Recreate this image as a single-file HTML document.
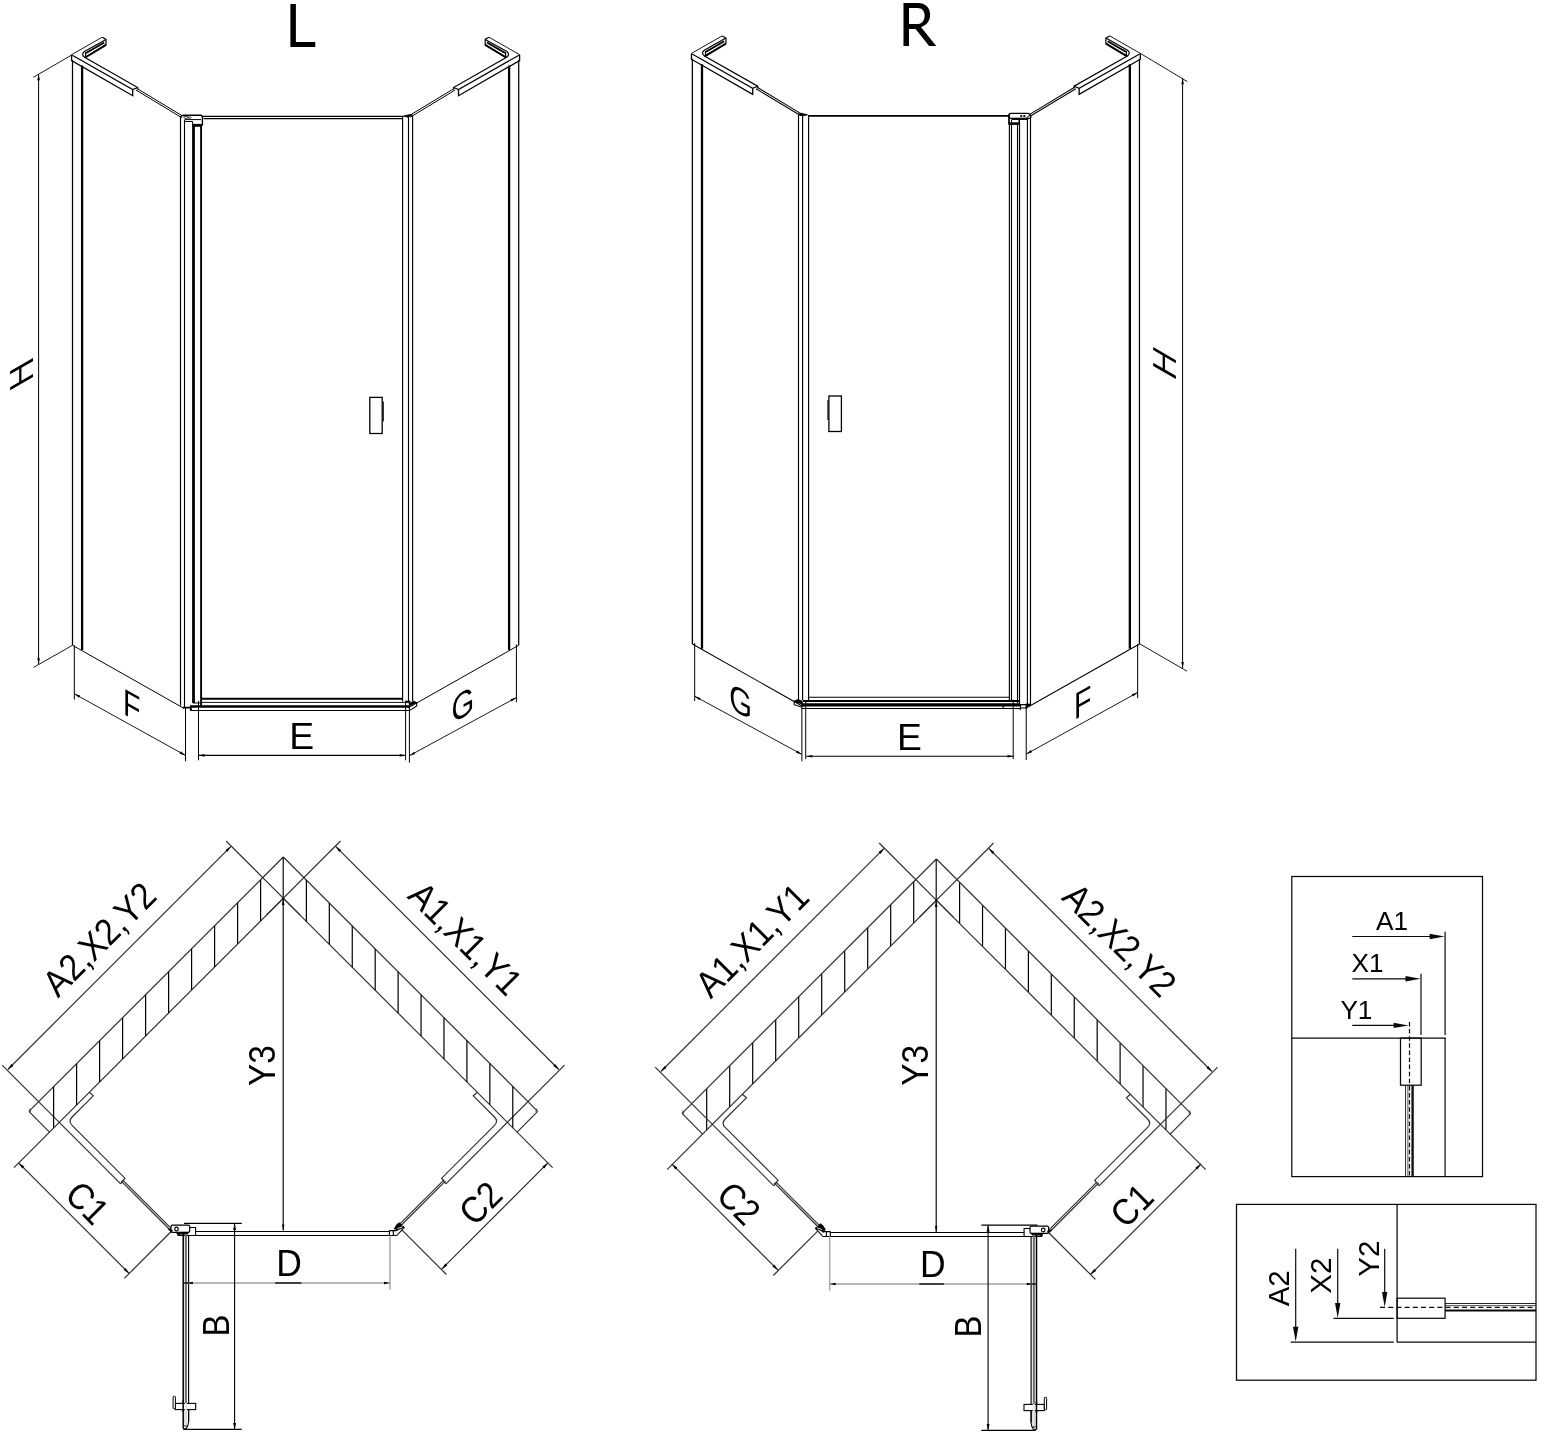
<!DOCTYPE html>
<html><head><meta charset="utf-8"><title>Shower enclosure dimensions</title>
<style>html,body{margin:0;padding:0;background:#fff;}svg{display:block;}text{font-family:"Liberation Sans",sans-serif;}svg{will-change:transform;}</style>
</head><body>
<svg width="1547" height="1436" viewBox="0 0 1547 1436">
<rect width="1547" height="1436" fill="#fff"/>
<defs>
<g id="isoHalf"><line x1="72.5" y1="60" x2="72.5" y2="645.3" stroke="#000" stroke-width="1.25" />
<line x1="82.1" y1="65.5" x2="82.1" y2="650" stroke="#000" stroke-width="2.3" />
<path d="M71.6,54.7 L102.2,37.2" stroke="#000" stroke-width="0.9" fill="none" />
<path d="M102.2,37.2 L106,39.4 V44.8 L85,57.6 L137.7,87.5 V89.6" stroke="#000" stroke-width="1.2" fill="none" />
<path d="M106,39.4 L84.4,51.5 Q80.6,54.6 85,57.6" stroke="#000" stroke-width="1.2" fill="none" />
<path d="M104.2,42.5 L86.1,53" stroke="#000" stroke-width="1.9" fill="none" />
<path d="M106,44.9 L85.6,57.2" stroke="#000" stroke-width="1.9" fill="none" />
<path d="M85.6,52.3 V56.8" stroke="#000" stroke-width="1.2" fill="none" />
<path d="M72.3,55.2 L132.7,89.6 L137.7,87.5" stroke="#000" stroke-width="1.2" fill="none" />
<path d="M71.6,54.7 V60.5 L132.7,95.7 V89.6" stroke="#000" stroke-width="1.3" fill="none" />
<path d="M137.2,88.6 L181.6,115.4" stroke="#000" stroke-width="1.0" fill="none" />
<path d="M136,90 L180.8,117.1" stroke="#000" stroke-width="1.0" fill="none" />
<line x1="72.5" y1="645.3" x2="183.3" y2="708" stroke="#000" stroke-width="1.0" /></g>
<g id="isoFrame"><use href="#isoHalf"/><use href="#isoHalf" transform="translate(591.2,0) scale(-1,1)"/><line x1="74.3" y1="645.3" x2="74.3" y2="699.6" stroke="#000" stroke-width="1.0" />
<line x1="74.3" y1="693.8" x2="185.5" y2="755.4" stroke="#000" stroke-width="0.9" /><path d="M74.3,693.8 L80.18,695.57 L78.92,697.84 Z" fill="#000" stroke="none"/><path d="M185.5,755.4 L179.62,753.63 L180.88,751.36 Z" fill="#000" stroke="none"/>
<line x1="185.5" y1="707.8" x2="185.5" y2="761.2" stroke="#000" stroke-width="1.0" />
<line x1="198.5" y1="701" x2="198.5" y2="760.3" stroke="#000" stroke-width="1.0" />
<line x1="405.6" y1="701.4" x2="405.6" y2="760.3" stroke="#000" stroke-width="1.0" />
<line x1="409.4" y1="703" x2="409.4" y2="762.6" stroke="#000" stroke-width="1.0" />
<line x1="409.4" y1="755.7" x2="516.4" y2="697.5" stroke="#000" stroke-width="0.9" /><path d="M409.4,755.7 L414.05,751.69 L415.29,753.98 Z" fill="#000" stroke="none"/><path d="M516.4,697.5 L511.75,701.51 L510.51,699.22 Z" fill="#000" stroke="none"/>
<line x1="516.4" y1="644.4" x2="516.4" y2="702.4" stroke="#000" stroke-width="1.0" /></g>
</defs>
<use href="#isoFrame"/>
<line x1="180.5" y1="116.5" x2="180.5" y2="705.5" stroke="#000" stroke-width="1.15" />
<line x1="184.5" y1="120" x2="184.5" y2="707" stroke="#000" stroke-width="1.1" />
<line x1="193.5" y1="126" x2="193.5" y2="703" stroke="#000" stroke-width="2.8" />
<line x1="201.1" y1="124" x2="201.1" y2="707" stroke="#000" stroke-width="1.9" />
<path d="M180.5,118 Q181,115.3 184,115.3 H200.6 Q202.4,115.3 202.4,117.5 V124.8 H192.2" stroke="#000" stroke-width="1.4" fill="none" />
<path d="M184.5,119.6 H201 M184.5,121.5 H192.6 V124.4 H200.5" stroke="#000" stroke-width="1.0" fill="none" />
<path d="M192.2,125.5 H201.9" stroke="#000" stroke-width="2.6" fill="none" />
<ellipse cx="186" cy="117.3" rx="2.2" ry="1.1" stroke="#000" stroke-width="0.8" fill="none"/>
<ellipse cx="189.5" cy="117.6" rx="1.6" ry="0.8" stroke="#000" stroke-width="0.7" fill="none"/>
<line x1="203" y1="116.3" x2="403.5" y2="116.3" stroke="#000" stroke-width="1.2" />
<line x1="203.6" y1="118.6" x2="402.5" y2="118.6" stroke="#000" stroke-width="1.2" />
<line x1="402.6" y1="117" x2="402.6" y2="701.5" stroke="#000" stroke-width="1.15" />
<line x1="408.5" y1="117" x2="408.5" y2="701.5" stroke="#000" stroke-width="1.15" />
<line x1="412.6" y1="116" x2="412.6" y2="701.5" stroke="#000" stroke-width="1.15" />
<path d="M403.5,116 L407.5,117.2 L412.6,115.2 L410,114.6 Z" stroke="#000" stroke-width="0.8" fill="#000" />
<rect x="369.8" y="397.4" width="12.4" height="36.1" stroke="#000" stroke-width="1.3" fill="none"/>
<line x1="383.3" y1="401.5" x2="383.3" y2="421.5" stroke="#000" stroke-width="1.0" />
<line x1="201.9" y1="698.8" x2="402.6" y2="698.8" stroke="#000" stroke-width="1.9" />
<line x1="201.9" y1="702.4" x2="409.9" y2="702.4" stroke="#000" stroke-width="0.95" />
<line x1="190.3" y1="706.5" x2="409" y2="706.5" stroke="#000" stroke-width="2.5" />
<line x1="190.3" y1="710.5" x2="409.9" y2="710.5" stroke="#000" stroke-width="1.1" />
<path d="M183,707.6 H190.6 L191.5,710.5" stroke="#000" stroke-width="1.6" fill="none" />
<path d="M190.5,705.4 V710.5 M193,703 H201" stroke="#000" stroke-width="1.2" fill="none" />
<path d="M409,704 L416.7,702.6 V706 L409.9,710.4" stroke="#000" stroke-width="1.1" fill="none" />
<path d="M409,703.5 L414,701 L416.7,702.6 L410.5,705.8 Z" stroke="#000" stroke-width="0.6" fill="#000" />
<path d="M405,701.5 H410.5" stroke="#000" stroke-width="1.6" fill="none" />
<line x1="198.5" y1="755.4" x2="405.6" y2="755.4" stroke="#000" stroke-width="1.15" /><path d="M198.5,755.4 L204.5,754.1 L204.5,756.7 Z" fill="#000" stroke="none"/><path d="M405.6,755.4 L399.6,756.7 L399.6,754.1 Z" fill="#000" stroke="none"/>
<line x1="33.2" y1="77.4" x2="72" y2="54.8" stroke="#000" stroke-width="0.9" />
<line x1="38.6" y1="74.3" x2="38.6" y2="664.3" stroke="#000" stroke-width="1.0" /><path d="M38.6,74.3 L39.9,80.3 L37.3,80.3 Z" fill="#000" stroke="none"/><path d="M38.6,664.3 L37.3,658.3 L39.9,658.3 Z" fill="#000" stroke="none"/>
<line x1="33.6" y1="667.4" x2="72.5" y2="645.3" stroke="#000" stroke-width="0.9" />
<use href="#isoFrame" transform="translate(1212.1,-1.3) scale(-1.002,1)"/>
<line x1="1009.4" y1="124.5" x2="1009.4" y2="701" stroke="#000" stroke-width="1.15" />
<line x1="1011.5" y1="124.5" x2="1011.5" y2="701" stroke="#000" stroke-width="1.1" />
<line x1="1017.5" y1="124.5" x2="1017.5" y2="703" stroke="#000" stroke-width="1.1" />
<line x1="1019.5" y1="120" x2="1019.5" y2="706" stroke="#000" stroke-width="1.2" />
<line x1="1027.4" y1="119.5" x2="1027.4" y2="706.5" stroke="#000" stroke-width="1.1" />
<line x1="1030.5" y1="116" x2="1030.5" y2="705.5" stroke="#000" stroke-width="1.15" />
<path d="M1009,118 V115.2 Q1009,113.4 1011,113.4 H1027.6 Q1030.2,113.6 1030.7,116 V118" stroke="#000" stroke-width="1.4" fill="none" />
<path d="M1009,118.3 H1030.7" stroke="#000" stroke-width="1.2" fill="none" />
<path d="M1011.5,119.2 H1028.2" stroke="#000" stroke-width="1.5" fill="none" />
<path d="M1009,114.5 V123" stroke="#000" stroke-width="1.7" fill="none" />
<path d="M1008.2,123.6 H1019.9" stroke="#000" stroke-width="2.6" fill="none" />
<path d="M1011.5,119.8 V122.3 M1019,119.8 V122.3" stroke="#000" stroke-width="1.0" fill="none" />
<ellipse cx="1021.2" cy="116" rx="1.2" ry="0.9" fill="#000"/>
<ellipse cx="1024.3" cy="116" rx="1.2" ry="0.9" fill="#000"/>
<path d="M1026.5,117.6 L1030.2,115.2" stroke="#000" stroke-width="1.0" fill="none" />
<line x1="808" y1="115.9" x2="1009" y2="115.9" stroke="#000" stroke-width="1.8" />
<line x1="798.5" y1="115" x2="798.5" y2="700" stroke="#000" stroke-width="1.15" />
<line x1="802.6" y1="115.7" x2="802.6" y2="700" stroke="#000" stroke-width="1.15" />
<line x1="808.6" y1="115.7" x2="808.6" y2="700" stroke="#000" stroke-width="1.15" />
<path d="M798.5,114 L802.5,116 L807.6,114.8 L801,113.2 Z" stroke="#000" stroke-width="0.8" fill="#000" />
<rect x="828.9" y="396" width="12.5" height="35.5" stroke="#000" stroke-width="1.3" fill="none"/>
<line x1="827.9" y1="400" x2="827.9" y2="420" stroke="#000" stroke-width="1.0" />
<line x1="808.6" y1="697.3" x2="1009.4" y2="697.3" stroke="#000" stroke-width="1.1" />
<line x1="802.6" y1="701" x2="1019.5" y2="701" stroke="#000" stroke-width="1.8" />
<line x1="801.7" y1="704.9" x2="1019.8" y2="704.9" stroke="#000" stroke-width="3.1" />
<line x1="801.2" y1="708.5" x2="1020.7" y2="708.5" stroke="#000" stroke-width="1.1" />
<path d="M1003.2,706 V708.5 M1020.5,704 V709 L1019.8,709.8" stroke="#000" stroke-width="1.2" fill="none" />
<path d="M1019.8,704.7 H1027 M1020.7,708 H1026.5" stroke="#000" stroke-width="1.2" fill="none" />
<path d="M1026,703.8 L1030.5,704 L1028,707.6 L1025.8,708.4 Z" stroke="#000" stroke-width="0.6" fill="#000" />
<path d="M801.2,707.1 L794.2,704.7 V701.3 L801.7,703.6" stroke="#000" stroke-width="1.1" fill="none" />
<path d="M794.2,701 L797.6,699.4 L801.5,700.6 L802.5,703.2 L797,702.6 Z" stroke="#000" stroke-width="0.6" fill="#000" />
<line x1="806.3" y1="756.2" x2="1013.5" y2="756.2" stroke="#000" stroke-width="1.15" /><path d="M806.3,756.2 L812.3,754.9 L812.3,757.5 Z" fill="#000" stroke="none"/><path d="M1013.5,756.2 L1007.5,757.5 L1007.5,754.9 Z" fill="#000" stroke="none"/>
<line x1="1140.4" y1="53.4" x2="1187.3" y2="81.6" stroke="#000" stroke-width="0.9" />
<line x1="1182.6" y1="78.2" x2="1182.6" y2="668" stroke="#000" stroke-width="1.0" /><path d="M1182.6,78.2 L1183.9,84.2 L1181.3,84.2 Z" fill="#000" stroke="none"/><path d="M1182.6,668 L1181.3,662 L1183.9,662 Z" fill="#000" stroke="none"/>
<line x1="1139.1" y1="643.5" x2="1187" y2="671.2" stroke="#000" stroke-width="0.9" />
<path d="M290.4,4 H295.9 V42.1 H315.3 V46.9 H290.4 Z" fill="#000"/>
<path transform="translate(870,0) scale(0.06464)" fill-rule="evenodd" fill="#000" d="M518,45 H740 C860,45 930,120 930,230 C930,330 870,395 790,420 L1025,710 H915 L705,447 H603 V710 H518 Z M603,123 V372 H730 C800,372 845,320 845,240 C845,165 800,123 735,123 Z"/>
<path d="M10.1,371.25 L33,358.05 L33,361.15 L10.1,374.35 Z" fill="#000"/>
<path d="M10.1,387.15 L33,373.95 L33,377.05 L10.1,390.25 Z" fill="#000"/>
<path d="M20.3,366.2 V383.2" stroke="#000" stroke-width="2.3" fill="none" />
<path d="M1153.2,346.95 L1175.9,360.15 L1175.9,363.25 L1153.2,350.05 Z" fill="#000"/>
<path d="M1153.2,362.85 L1175.9,375.85 L1175.9,378.95 L1153.2,365.95 Z" fill="#000"/>
<path d="M1163.8,354.2 V371.2" stroke="#000" stroke-width="2.3" fill="none" />
<g transform="translate(131.8,705.7) skewY(29) scale(0.76,1)"><text x="0" y="12.9" text-anchor="middle" font-size="37.5" font-family="Liberation Sans, sans-serif" font-weight="normal" fill="#000">F</text></g>
<g transform="translate(462.9,704.6) skewY(-29) scale(0.78,1)"><text x="0" y="12.9" text-anchor="middle" font-size="37.5" font-family="Liberation Sans, sans-serif" font-weight="normal" fill="#000">G</text></g>
<g transform="translate(301.8,736.55)  scale(1.0,1)"><text x="0" y="12.83" text-anchor="middle" font-size="37.3" font-family="Liberation Sans, sans-serif" font-weight="normal" fill="#000">E</text></g>
<g transform="translate(740.6,701.4) skewY(29) scale(0.78,1)"><text x="0" y="12.9" text-anchor="middle" font-size="37.5" font-family="Liberation Sans, sans-serif" font-weight="normal" fill="#000">G</text></g>
<g transform="translate(1082.6,702.4) skewY(-29) scale(0.76,1)"><text x="0" y="12.9" text-anchor="middle" font-size="37.5" font-family="Liberation Sans, sans-serif" font-weight="normal" fill="#000">F</text></g>
<g transform="translate(909.5,737.3)  scale(1.0,1)"><text x="0" y="12.83" text-anchor="middle" font-size="37.3" font-family="Liberation Sans, sans-serif" font-weight="normal" fill="#000">E</text></g>
<defs>
<g id="planHalf"><line x1="283.3" y1="857" x2="28.9" y2="1111.4" stroke="#303030" stroke-width="1.2" />
<line x1="283.3" y1="898.3" x2="14" y2="1167.6" stroke="#303030" stroke-width="1.2" />
<line x1="28.9" y1="1111.4" x2="49.5" y2="1132.1" stroke="#303030" stroke-width="1.2" />
<path d="M29.6,1108.5 L30.8,1112" stroke="#303030" stroke-width="0.8" fill="none" />
<line x1="2.1" y1="1065.2" x2="120.7" y2="1183.8" stroke="#303030" stroke-width="1.2" />
<line x1="7.8" y1="1069.5" x2="231" y2="846.3" stroke="#303030" stroke-width="1.2" /><path d="M7.8,1069.5 L11.41,1063.91 L13.39,1065.89 Z" fill="#000" stroke="none"/><path d="M231,846.3 L227.39,851.89 L225.41,849.91 Z" fill="#000" stroke="none"/>
<line x1="226.1" y1="841" x2="300.2" y2="915.1" stroke="#303030" stroke-width="1.2" />
<path d="M89.3,1092.3 L93.3,1095.8 L72.1,1117 Q67.9,1121.2 72.1,1125.4 L124.9,1178.2 L120.7,1183.8" stroke="#303030" stroke-width="1.2" fill="none" />
<line x1="122.6" y1="1179.8" x2="172.2" y2="1229.4" stroke="#303030" stroke-width="1.2" />
<line x1="121" y1="1180.9" x2="170.6" y2="1230.5" stroke="#303030" stroke-width="1.2" /></g>
<g id="planWalls"><use href="#planHalf"/><use href="#planHalf" transform="translate(566.6,0) scale(-1,1)"/></g>
<g id="planDoor"><line x1="18.65" y1="1162.95" x2="129.2" y2="1273.5" stroke="#303030" stroke-width="1.2" /><path d="M18.65,1162.95 L24.24,1166.56 L22.26,1168.54 Z" fill="#000" stroke="none"/><path d="M129.2,1273.5 L123.61,1269.89 L125.59,1267.91 Z" fill="#000" stroke="none"/>
<line x1="171.2" y1="1231.5" x2="124.3" y2="1278.4" stroke="#303030" stroke-width="1.2" />
<line x1="547.95" y1="1162.95" x2="441.7" y2="1269.2" stroke="#303030" stroke-width="1.2" /><path d="M547.95,1162.95 L544.34,1168.54 L542.36,1166.56 Z" fill="#000" stroke="none"/><path d="M441.7,1269.2 L445.31,1263.61 L447.29,1265.59 Z" fill="#000" stroke="none"/>
<line x1="401.8" y1="1229.9" x2="446.4" y2="1274.5" stroke="#303030" stroke-width="1.2" />
<rect x="171" y="1225.2" width="18.7" height="7.1" rx="1.6" stroke="#000" stroke-width="1.2" fill="#fff"/>
<circle cx="176.5" cy="1229" r="1.8" stroke="#000" stroke-width="1.2" fill="none"/>
<path d="M189.7,1227.5 H195.6 V1235.5 H178.1 L176.8,1232.6" stroke="#000" stroke-width="1.1" fill="none" />
<path d="M176.5,1232.4 H188.5 L187.5,1234.2 H180.3 L179,1235 Z" stroke="#000" stroke-width="0.6" fill="#000" />
<path d="M168,1228.8 L171.3,1232.2 L172.5,1230.3 Z" stroke="#000" stroke-width="0.6" fill="#000" />
<line x1="195.6" y1="1231.5" x2="389.4" y2="1231.5" stroke="#000" stroke-width="1.2" />
<line x1="195.6" y1="1235.5" x2="396.8" y2="1235.5" stroke="#000" stroke-width="1.2" />
<path d="M389.4,1230.6 V1235.5 M393.3,1230.6 V1235.5 M389.2,1230.6 H396 L403.7,1226.8 L404.1,1227.6 L396.8,1235.5" stroke="#000" stroke-width="1.1" fill="none" />
<path d="M394.2,1228.6 L397,1224.2 L399.6,1222.6 L401.5,1225 L404,1227.3 L397.5,1229.8 Z" stroke="#000" stroke-width="0.6" fill="#000" />
<path d="M397.6,1228.6 L402.6,1226.7" stroke="#fff" stroke-width="0.9" fill="none" />
<rect x="184.8" y="1234" width="2.1" height="190" fill="#707070" stroke="none"/>
<line x1="183.2" y1="1232.5" x2="183.2" y2="1428.3" stroke="#000" stroke-width="1.5" />
<line x1="188.6" y1="1235" x2="188.6" y2="1422" stroke="#000" stroke-width="1.15" />
<path d="M183.2,1428 Q184,1429.4 186,1428.6 Q188.4,1426 188.6,1421.8" stroke="#000" stroke-width="1.1" fill="none" />
<circle cx="185.4" cy="1425.7" r="0.9" stroke="#000" stroke-width="0.7" fill="#fff"/>
<rect x="175.4" y="1403.4" width="20.3" height="6.2" stroke="#000" stroke-width="1.1" fill="#fff"/>
<rect x="173.1" y="1396.3" width="2.3" height="12.5" rx="0.8" stroke="#000" stroke-width="1.0" fill="#fff"/>
<rect x="184.8" y="1402.8" width="2.1" height="22" fill="#e2e2e2" stroke="none"/>
<line x1="183.2" y1="1400" x2="183.2" y2="1412" stroke="#000" stroke-width="1.5" />
<line x1="188.6" y1="1409.6" x2="188.6" y2="1421" stroke="#000" stroke-width="1.15" />
<line x1="390" y1="1235.5" x2="390" y2="1289.6" stroke="#a8a8a8" stroke-width="1.5" />
<line x1="186.9" y1="1283" x2="390" y2="1283" stroke="#a0a0a0" stroke-width="1.3" />
<path d="M186.9,1283 L192.9,1281.8 L192.9,1284.2 Z" fill="#000" stroke="none"/>
<path d="M390,1283 L384,1284.2 L384,1281.8 Z" fill="#000" stroke="none"/>
<line x1="183.4" y1="1283" x2="188.5" y2="1283" stroke="#000" stroke-width="1.3" /></g>
</defs>
<use href="#planWalls"/>
<line x1="260.6" y1="879.7" x2="260.6" y2="921" stroke="#000" stroke-width="1.2" />
<line x1="306.4" y1="880.1" x2="306.4" y2="921.4" stroke="#000" stroke-width="1.2" />
<line x1="237.6" y1="902.7" x2="237.6" y2="944" stroke="#000" stroke-width="1.2" />
<line x1="329.33" y1="903.03" x2="329.33" y2="944.33" stroke="#000" stroke-width="1.2" />
<line x1="214.6" y1="925.7" x2="214.6" y2="967" stroke="#000" stroke-width="1.2" />
<line x1="352.26" y1="925.96" x2="352.26" y2="967.26" stroke="#000" stroke-width="1.2" />
<line x1="191.6" y1="948.7" x2="191.6" y2="990" stroke="#000" stroke-width="1.2" />
<line x1="375.19" y1="948.89" x2="375.19" y2="990.19" stroke="#000" stroke-width="1.2" />
<line x1="168.6" y1="971.7" x2="168.6" y2="1013" stroke="#000" stroke-width="1.2" />
<line x1="398.12" y1="971.82" x2="398.12" y2="1013.12" stroke="#000" stroke-width="1.2" />
<line x1="145.6" y1="994.7" x2="145.6" y2="1036" stroke="#000" stroke-width="1.2" />
<line x1="421.05" y1="994.75" x2="421.05" y2="1036.05" stroke="#000" stroke-width="1.2" />
<line x1="122.6" y1="1017.7" x2="122.6" y2="1059" stroke="#000" stroke-width="1.2" />
<line x1="443.98" y1="1017.68" x2="443.98" y2="1058.98" stroke="#000" stroke-width="1.2" />
<line x1="99.6" y1="1040.7" x2="99.6" y2="1082" stroke="#000" stroke-width="1.2" />
<line x1="466.91" y1="1040.61" x2="466.91" y2="1081.91" stroke="#000" stroke-width="1.2" />
<line x1="76.6" y1="1063.7" x2="76.6" y2="1105" stroke="#000" stroke-width="1.2" />
<line x1="489.84" y1="1063.54" x2="489.84" y2="1104.84" stroke="#000" stroke-width="1.2" />
<line x1="53.6" y1="1086.7" x2="53.6" y2="1128" stroke="#000" stroke-width="1.2" />
<line x1="512.77" y1="1086.47" x2="512.77" y2="1127.77" stroke="#000" stroke-width="1.2" />
<line x1="913.7" y1="881.7" x2="913.7" y2="923" stroke="#000" stroke-width="1.2" />
<line x1="959.6" y1="882.2" x2="959.6" y2="923.5" stroke="#000" stroke-width="1.2" />
<line x1="890.7" y1="904.7" x2="890.7" y2="946" stroke="#000" stroke-width="1.2" />
<line x1="982.53" y1="905.13" x2="982.53" y2="946.43" stroke="#000" stroke-width="1.2" />
<line x1="867.7" y1="927.7" x2="867.7" y2="969" stroke="#000" stroke-width="1.2" />
<line x1="1005.46" y1="928.06" x2="1005.46" y2="969.36" stroke="#000" stroke-width="1.2" />
<line x1="844.7" y1="950.7" x2="844.7" y2="992" stroke="#000" stroke-width="1.2" />
<line x1="1028.39" y1="950.99" x2="1028.39" y2="992.29" stroke="#000" stroke-width="1.2" />
<line x1="821.7" y1="973.7" x2="821.7" y2="1015" stroke="#000" stroke-width="1.2" />
<line x1="1051.32" y1="973.92" x2="1051.32" y2="1015.22" stroke="#000" stroke-width="1.2" />
<line x1="798.7" y1="996.7" x2="798.7" y2="1038" stroke="#000" stroke-width="1.2" />
<line x1="1074.25" y1="996.85" x2="1074.25" y2="1038.15" stroke="#000" stroke-width="1.2" />
<line x1="775.7" y1="1019.7" x2="775.7" y2="1061" stroke="#000" stroke-width="1.2" />
<line x1="1097.18" y1="1019.78" x2="1097.18" y2="1061.08" stroke="#000" stroke-width="1.2" />
<line x1="752.7" y1="1042.7" x2="752.7" y2="1084" stroke="#000" stroke-width="1.2" />
<line x1="1120.11" y1="1042.71" x2="1120.11" y2="1084.01" stroke="#000" stroke-width="1.2" />
<line x1="729.7" y1="1065.7" x2="729.7" y2="1107" stroke="#000" stroke-width="1.2" />
<line x1="1143.04" y1="1065.64" x2="1143.04" y2="1106.94" stroke="#000" stroke-width="1.2" />
<line x1="706.7" y1="1088.7" x2="706.7" y2="1130" stroke="#000" stroke-width="1.2" />
<line x1="1165.97" y1="1088.57" x2="1165.97" y2="1129.87" stroke="#000" stroke-width="1.2" />
<use href="#planDoor"/>
<line x1="283.2" y1="857" x2="283.2" y2="1230.6" stroke="#000" stroke-width="1.15" />
<path d="M283.2,898.6 L284.5,904.9 L281.9,904.9 Z" fill="#000" stroke="none"/>
<path d="M283.2,1230.6 L282,1224.6 L284.4,1224.6 Z" fill="#000" stroke="none"/>
<line x1="184" y1="1223.4" x2="241.8" y2="1223.4" stroke="#000" stroke-width="1.2" />
<line x1="183.3" y1="1429.4" x2="241.7" y2="1429.4" stroke="#000" stroke-width="1.2" />
<line x1="234.6" y1="1223.4" x2="234.6" y2="1429.4" stroke="#000" stroke-width="1.1" /><path d="M234.6,1223.4 L236.1,1229.9 L233.1,1229.9 Z" fill="#000" stroke="none"/><path d="M234.6,1429.4 L233.1,1422.9 L236.1,1422.9 Z" fill="#000" stroke="none"/>
<line x1="275.1" y1="1283" x2="301.3" y2="1283" stroke="#000" stroke-width="1.3" />
<use href="#planWalls" transform="translate(653.1,2)"/>
<use href="#planDoor" transform="translate(1219.7,1) scale(-1,1)"/>
<line x1="936.2" y1="859" x2="936.2" y2="1232" stroke="#000" stroke-width="1.15" />
<path d="M936.2,900.6 L937.5,906.9 L934.9,906.9 Z" fill="#000" stroke="none"/>
<path d="M936.2,1232 L935,1226 L937.4,1226 Z" fill="#000" stroke="none"/>
<line x1="981.3" y1="1225.2" x2="1037.5" y2="1225.2" stroke="#000" stroke-width="1.2" />
<line x1="981.3" y1="1430.4" x2="1035.6" y2="1430.4" stroke="#000" stroke-width="1.2" />
<line x1="988.1" y1="1225.2" x2="988.1" y2="1430.4" stroke="#000" stroke-width="1.1" /><path d="M988.1,1225.2 L989.6,1231.7 L986.6,1231.7 Z" fill="#000" stroke="none"/><path d="M988.1,1430.4 L986.6,1423.9 L989.6,1423.9 Z" fill="#000" stroke="none"/>
<line x1="919.3" y1="1284" x2="943.9" y2="1284" stroke="#000" stroke-width="1.3" />
<g transform="translate(99.3,939.2) rotate(-45) scale(1.0,1)"><text x="0" y="12.73" text-anchor="middle" font-size="37" font-family="Liberation Sans, sans-serif" font-weight="normal" fill="#000" textLength="142" lengthAdjust="spacingAndGlyphs">A2,X2,Y2</text></g>
<g transform="translate(465.5,938.5) rotate(45) scale(1.0,1)"><text x="0" y="12.73" text-anchor="middle" font-size="37" font-family="Liberation Sans, sans-serif" font-weight="normal" fill="#000" textLength="142" lengthAdjust="spacingAndGlyphs">A1,X1,Y1</text></g>
<g transform="translate(752,940.4) rotate(-45) scale(1.0,1)"><text x="0" y="12.73" text-anchor="middle" font-size="37" font-family="Liberation Sans, sans-serif" font-weight="normal" fill="#000" textLength="142" lengthAdjust="spacingAndGlyphs">A1,X1,Y1</text></g>
<g transform="translate(1119.6,940) rotate(45) scale(1.0,1)"><text x="0" y="12.73" text-anchor="middle" font-size="37" font-family="Liberation Sans, sans-serif" font-weight="normal" fill="#000" textLength="142" lengthAdjust="spacingAndGlyphs">A2,X2,Y2</text></g>
<g transform="translate(262.2,1065.6) rotate(-90) scale(0.9,1)"><text x="0" y="12.73" text-anchor="middle" font-size="37" font-family="Liberation Sans, sans-serif" font-weight="normal" fill="#000">Y3</text></g>
<g transform="translate(915.5,1065.4) rotate(-90) scale(0.9,1)"><text x="0" y="12.73" text-anchor="middle" font-size="37" font-family="Liberation Sans, sans-serif" font-weight="normal" fill="#000">Y3</text></g>
<g transform="translate(87.3,1202.9) rotate(45) scale(0.9,1)"><text x="0" y="12.73" text-anchor="middle" font-size="37" font-family="Liberation Sans, sans-serif" font-weight="normal" fill="#000">C1</text></g>
<g transform="translate(480.6,1203.3) rotate(-45) scale(0.9,1)"><text x="0" y="12.73" text-anchor="middle" font-size="37" font-family="Liberation Sans, sans-serif" font-weight="normal" fill="#000">C2</text></g>
<g transform="translate(738.7,1203.2) rotate(45) scale(0.9,1)"><text x="0" y="12.73" text-anchor="middle" font-size="37" font-family="Liberation Sans, sans-serif" font-weight="normal" fill="#000">C2</text></g>
<g transform="translate(1131.9,1205.5) rotate(-45) scale(0.9,1)"><text x="0" y="12.73" text-anchor="middle" font-size="37" font-family="Liberation Sans, sans-serif" font-weight="normal" fill="#000">C1</text></g>
<g transform="translate(289,1263.4)  scale(0.97,1)"><text x="0" y="12.59" text-anchor="middle" font-size="36.6" font-family="Liberation Sans, sans-serif" font-weight="normal" fill="#000">D</text></g>
<g transform="translate(932.85,1264.3)  scale(0.97,1)"><text x="0" y="12.59" text-anchor="middle" font-size="36.6" font-family="Liberation Sans, sans-serif" font-weight="normal" fill="#000">D</text></g>
<g transform="translate(215.8,1325.55) rotate(-90) scale(0.89,1)"><text x="0" y="12.73" text-anchor="middle" font-size="37" font-family="Liberation Sans, sans-serif" font-weight="normal" fill="#000">B</text></g>
<g transform="translate(968.7,1326.55) rotate(-90) scale(0.89,1)"><text x="0" y="12.73" text-anchor="middle" font-size="37" font-family="Liberation Sans, sans-serif" font-weight="normal" fill="#000">B</text></g>
<rect x="1291.8" y="876.5" width="190.7" height="300.1" stroke="#0a0a0a" stroke-width="1.25" fill="none"/>
<line x1="1291.8" y1="1038.1" x2="1445.8" y2="1038.1" stroke="#0a0a0a" stroke-width="1.25" />
<line x1="1445.1" y1="931.7" x2="1445.1" y2="1035" stroke="#0a0a0a" stroke-width="1.2" />
<line x1="1445.1" y1="1038.1" x2="1445.1" y2="1176.6" stroke="#0a0a0a" stroke-width="1.2" />
<line x1="1421" y1="973.7" x2="1421" y2="1035" stroke="#0a0a0a" stroke-width="1.2" />
<rect x="1400.5" y="1038.1" width="20.7" height="47.1" stroke="#0a0a0a" stroke-width="1.25" fill="none"/>
<line x1="1409.5" y1="1022" x2="1409.5" y2="1176.6" stroke="#0a0a0a" stroke-width="1.2" stroke-dasharray="4.5,2.6"/>
<line x1="1405.6" y1="1085.2" x2="1405.6" y2="1176.6" stroke="#0a0a0a" stroke-width="0.9" />
<line x1="1407.9" y1="1085.2" x2="1407.9" y2="1176.6" stroke="#0a0a0a" stroke-width="0.7" />
<line x1="1412.6" y1="1085.2" x2="1412.6" y2="1176.6" stroke="#0a0a0a" stroke-width="2.3" />
<line x1="1352.3" y1="936.5" x2="1436.6" y2="936.5" stroke="#0a0a0a" stroke-width="1.2" />
<path d="M1444.6,936.5 L1429.6,939.2 L1429.6,933.8 Z" fill="#0a0a0a" stroke="none"/>
<line x1="1352.3" y1="978.8" x2="1412.5" y2="978.8" stroke="#0a0a0a" stroke-width="1.2" />
<path d="M1420.5,978.8 L1405.5,981.5 L1405.5,976.1 Z" fill="#0a0a0a" stroke="none"/>
<line x1="1352.3" y1="1025.4" x2="1400.6" y2="1025.4" stroke="#0a0a0a" stroke-width="1.2" />
<path d="M1408.6,1025.4 L1393.6,1028.1 L1393.6,1022.7 Z" fill="#0a0a0a" stroke="none"/>
<g transform="translate(1392,920.9)  scale(1.0,1)"><text x="0" y="9.01" text-anchor="middle" font-size="26.2" font-family="Liberation Sans, sans-serif" font-weight="normal" fill="#000">A1</text></g>
<g transform="translate(1367.6,962.5)  scale(1.0,1)"><text x="0" y="9.01" text-anchor="middle" font-size="26.2" font-family="Liberation Sans, sans-serif" font-weight="normal" fill="#000">X1</text></g>
<g transform="translate(1356.4,1009.6)  scale(1.0,1)"><text x="0" y="9.01" text-anchor="middle" font-size="26.2" font-family="Liberation Sans, sans-serif" font-weight="normal" fill="#000">Y1</text></g>
<rect x="1236.5" y="1204.4" width="299.5" height="175.8" stroke="#0a0a0a" stroke-width="1.25" fill="none"/>
<line x1="1397.1" y1="1204.4" x2="1397.1" y2="1342.2" stroke="#0a0a0a" stroke-width="1.25" />
<line x1="1290.8" y1="1342.2" x2="1393.7" y2="1342.2" stroke="#0a0a0a" stroke-width="1.2" />
<line x1="1397.1" y1="1342.2" x2="1536" y2="1342.2" stroke="#0a0a0a" stroke-width="1.2" />
<line x1="1333.5" y1="1318.3" x2="1393.7" y2="1318.3" stroke="#0a0a0a" stroke-width="1.2" />
<rect x="1397.1" y="1298.2" width="48" height="20.1" stroke="#0a0a0a" stroke-width="1.25" fill="none"/>
<line x1="1380" y1="1307.3" x2="1536" y2="1307.3" stroke="#0a0a0a" stroke-width="1.2" stroke-dasharray="5,3.2"/>
<line x1="1445.1" y1="1303.5" x2="1536" y2="1303.5" stroke="#0a0a0a" stroke-width="0.9" />
<line x1="1445.1" y1="1305.6" x2="1536" y2="1305.6" stroke="#0a0a0a" stroke-width="0.7" />
<line x1="1445.1" y1="1310.5" x2="1536" y2="1310.5" stroke="#0a0a0a" stroke-width="2.2" />
<line x1="1295.7" y1="1248.8" x2="1295.7" y2="1333.8" stroke="#0a0a0a" stroke-width="1.2" />
<path d="M1295.7,1341.8 L1293,1326.8 L1298.4,1326.8 Z" fill="#0a0a0a" stroke="none"/>
<line x1="1337.7" y1="1248.8" x2="1337.7" y2="1309.9" stroke="#0a0a0a" stroke-width="1.2" />
<path d="M1337.7,1317.9 L1335,1302.9 L1340.4,1302.9 Z" fill="#0a0a0a" stroke="none"/>
<line x1="1384.7" y1="1248.8" x2="1384.7" y2="1298.9" stroke="#0a0a0a" stroke-width="1.2" />
<path d="M1384.7,1306.9 L1382,1291.9 L1387.4,1291.9 Z" fill="#0a0a0a" stroke="none"/>
<g transform="translate(1279.2,1288.3) rotate(-90) scale(1.0,1)"><text x="0" y="10.15" text-anchor="middle" font-size="29.5" font-family="Liberation Sans, sans-serif" font-weight="normal" fill="#000">A2</text></g>
<g transform="translate(1321.2,1275.6) rotate(-90) scale(1.0,1)"><text x="0" y="10.15" text-anchor="middle" font-size="29.5" font-family="Liberation Sans, sans-serif" font-weight="normal" fill="#000">X2</text></g>
<g transform="translate(1368.4,1258.7) rotate(-90) scale(1.0,1)"><text x="0" y="10.15" text-anchor="middle" font-size="29.5" font-family="Liberation Sans, sans-serif" font-weight="normal" fill="#000">Y2</text></g>
</svg>
</body></html>
